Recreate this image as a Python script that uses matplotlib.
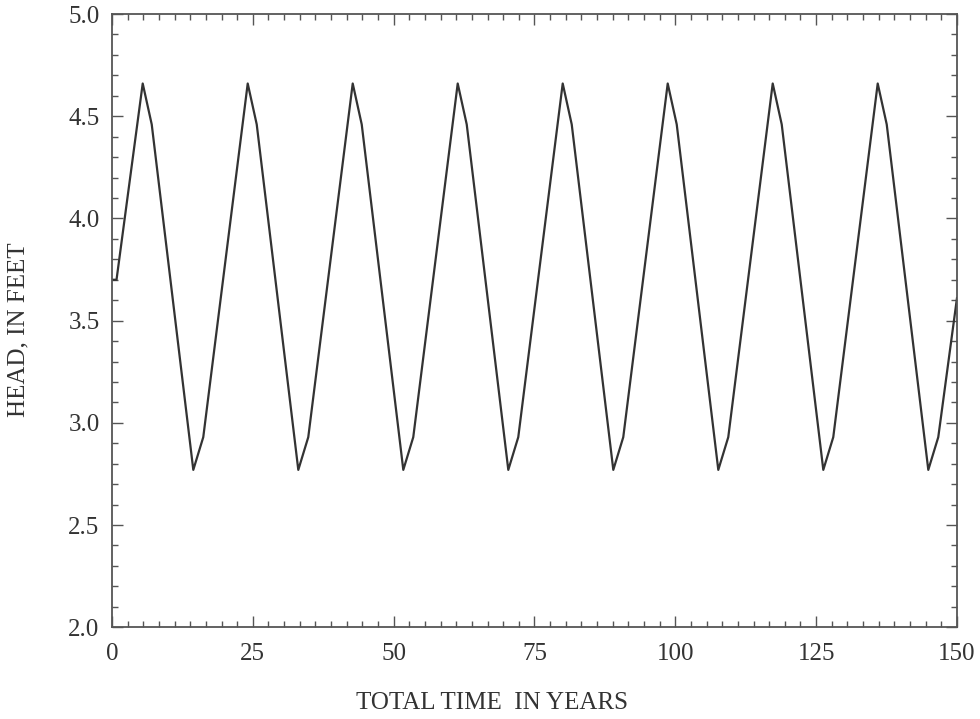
import matplotlib
matplotlib.use("Agg")
import matplotlib.pyplot as plt
from matplotlib.ticker import MultipleLocator, AutoMinorLocator

plt.rcParams['font.family'] = ['Liberation Serif', 'DejaVu Serif']

time_years = [0.0, 0.8, 5.45, 7.05, 14.43, 16.2,
              24.09, 25.69, 33.07, 34.84,
              42.73, 44.33, 51.71, 53.48,
              61.37, 62.97, 70.35, 72.12,
              80.01, 81.61, 88.99, 90.76,
              98.65, 100.25, 107.63, 109.40,
              117.29, 118.89, 126.27, 128.04,
              135.93, 137.53, 144.91, 146.68, 150.0]
head_feet = [3.70, 3.70, 4.66, 4.46, 2.77, 2.93,
             4.66, 4.46, 2.77, 2.93,
             4.66, 4.46, 2.77, 2.93,
             4.66, 4.46, 2.77, 2.93,
             4.66, 4.46, 2.77, 2.93,
             4.66, 4.46, 2.77, 2.93,
             4.66, 4.46, 2.77, 2.93,
             4.66, 4.46, 2.77, 2.93, 3.61]

x_ticks = [0, 25, 50, 75, 100, 125, 150]
y_ticks = [2.0, 2.5, 3.0, 3.5, 4.0, 4.5, 5.0]

fig = plt.figure(figsize=(9.8, 7.19), dpi=100)
ax = fig.add_axes([0.1143, 0.1276, 0.8622, 0.8529])

ax.plot(time_years, head_feet, color='#333333', linewidth=1.6)

ax.set_xlim(0, 150)
ax.set_ylim(2.0, 5.0)
ax.set_xticks(x_ticks)
ax.set_yticks(y_ticks)
ax.set_xticklabels([str(v) for v in x_ticks])
ax.set_yticklabels([f"{v:.1f}" for v in y_ticks])
ax.xaxis.set_minor_locator(AutoMinorLocator(9))
ax.yaxis.set_minor_locator(MultipleLocator(0.1))

ax.tick_params(which='both', direction='in', top=True, right=True,
               color='#555555', width=1.0)
ax.tick_params(which='major', length=8, labelsize=18, labelcolor='#333333')
ax.tick_params(axis='x', which='major', pad=11)
ax.tick_params(axis='y', which='major', pad=9)
ax.tick_params(which='minor', length=4)

for s in ax.spines.values():
    s.set_color('#555555')
    s.set_linewidth(1.3)

ax.set_xlabel('TOTAL TIME  IN YEARS', fontsize=18, color='#333333')
ax.set_ylabel('HEAD, IN FEET', fontsize=18, color='#333333')
ax.xaxis.set_label_coords(0.45, -0.105)
ax.yaxis.set_label_coords(-0.098, 0.485)

fig.savefig('out.png', dpi=100, facecolor='white')
